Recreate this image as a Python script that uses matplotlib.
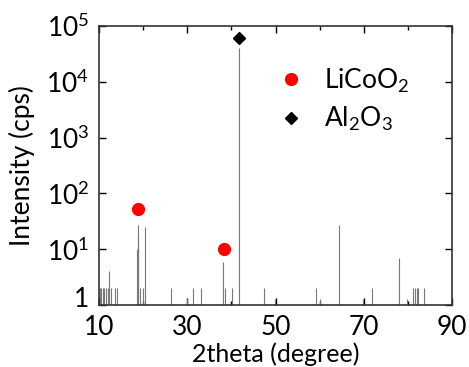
import matplotlib
matplotlib.use("Agg")
import matplotlib.pyplot as plt
import matplotlib.transforms as mtransforms
from matplotlib.ticker import FixedLocator, LogLocator, NullFormatter

plt.rcParams["font.family"] = ["Lato", "DejaVu Sans"]
plt.rcParams["mathtext.fontset"] = "custom"
plt.rcParams["mathtext.rm"] = "Lato"
plt.rcParams["mathtext.it"] = "Lato"

# stick pattern (2theta, intensity)
peak_pos = [10.2, 10.5, 10.9, 11.2, 11.6, 12.0, 12.3, 12.7, 13.6, 14.0,
            18.6, 18.8, 18.9, 19.3, 20.0, 20.4, 26.3, 29.9, 31.4, 33.1,
            38.2, 38.6, 40.1, 41.7, 47.3, 49.9, 59.2, 60.0, 64.5, 69.9,
            71.8, 78.1, 79.8, 81.2, 81.6, 82.0, 82.4, 83.6]
peak_int = [2, 2, 2, 2, 2, 2, 4, 2, 2, 2,
            10, 27, 18, 2, 2, 25, 2, 1.3, 2, 2,
            6, 2, 2, 40000, 2, 1.3, 2, 1.3, 27, 1.3,
            2, 6.9, 1.3, 2, 2, 2, 2, 2]

licoo2_x = [18.8, 38.3]
licoo2_y = [52, 10]
al2o3_x = [41.7]
al2o3_y = [62000]

fig = plt.figure(figsize=(4.69, 3.67), dpi=100)
ax = fig.add_axes([99 / 469, 1 - 305 / 367, 353 / 469, 279 / 367])

ax.vlines(peak_pos, 1, peak_int, color="#777777", lw=0.8)
ax.plot(licoo2_x, licoo2_y, "o", color="red", ms=8.5, ls="none", label="LiCoO$_2$")
ax.plot(al2o3_x, al2o3_y, "D", color="black", ms=6.5, ls="none", label="Al$_2$O$_3$")

ax.set_yscale("log")
ax.set_xlim(10, 90)
ax.set_ylim(1, 1e5)
ax.xaxis.set_major_locator(FixedLocator([10, 30, 50, 70, 90]))
ax.xaxis.set_minor_locator(FixedLocator([20, 40, 60, 80]))
ax.yaxis.set_major_locator(FixedLocator([1, 10, 100, 1e3, 1e4, 1e5]))
ax.yaxis.set_minor_locator(LogLocator(base=10, subs=range(2, 10)))
ax.yaxis.set_minor_formatter(NullFormatter())
ax.set_yticklabels(["1", "$10^1$", "$10^2$", "$10^3$", "$10^4$", "$10^5$"])
ax.tick_params(which="both", direction="in", top=True, right=True,
               labelsize=19, width=1)
ax.tick_params(axis="x", pad=7)
ax.tick_params(axis="y", pad=7)
ax.tick_params(which="major", length=5)
ax.tick_params(which="minor", length=3)
for s in ax.spines.values():
    s.set_linewidth(1.2)
    s.set_color("#333333")

# lift the "1" label slightly so it clears the "10" below it
one = ax.get_yticklabels()[0]
one.set_transform(one.get_transform() +
                  mtransforms.ScaledTranslation(0, 6 / 72, fig.dpi_scale_trans))

ax.set_xlabel("2theta (degree)", fontsize=18)
ax.xaxis.set_label_coords(0.5, -0.135)
ax.set_ylabel("Intensity (cps)", fontsize=19, labelpad=8)

ax.legend(loc="upper left", bbox_to_anchor=(0.42, 0.94), frameon=False,
          fontsize=19, handletextpad=0.5, labelspacing=0.4, handlelength=1.5)

fig.savefig("out.png", dpi=100)
